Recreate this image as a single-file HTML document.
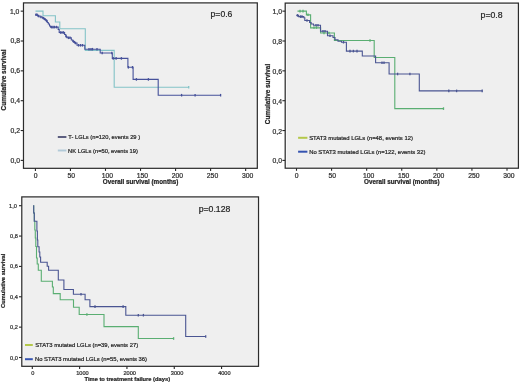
<!DOCTYPE html>
<html><head><meta charset="utf-8"><style>
html,body{margin:0;padding:0;background:#fff;width:520px;height:384px;overflow:hidden}
text{font-family:"Liberation Sans", sans-serif;stroke:#2a2a2a;stroke-width:0.22px}
</style></head><body><div style="will-change:transform;filter:blur(0.3px);width:520px;height:384px">
<svg width="520" height="384" viewBox="0 0 520 384" style="display:block">
<rect width="520" height="384" fill="#fff"/>
<rect x="23.5" y="2.9" width="233.8" height="165.4" fill="#fbfbfb" stroke="#2c2c2c" stroke-width="1.25"/>
<rect x="25.02" y="4.42" width="230.75" height="162.35" fill="#efefef"/>
<line x1="20.7" y1="160.4" x2="23.5" y2="160.4" stroke="#262626" stroke-width="1.1"/>
<text x="20" y="162.85" font-size="6.8" text-anchor="end" fill="#333">0,0</text>
<line x1="20.7" y1="130.55" x2="23.5" y2="130.55" stroke="#262626" stroke-width="1.1"/>
<text x="20" y="133" font-size="6.8" text-anchor="end" fill="#333">0,2</text>
<line x1="20.7" y1="100.7" x2="23.5" y2="100.7" stroke="#262626" stroke-width="1.1"/>
<text x="20" y="103.15" font-size="6.8" text-anchor="end" fill="#333">0,4</text>
<line x1="20.7" y1="70.85" x2="23.5" y2="70.85" stroke="#262626" stroke-width="1.1"/>
<text x="20" y="73.3" font-size="6.8" text-anchor="end" fill="#333">0,6</text>
<line x1="20.7" y1="41" x2="23.5" y2="41" stroke="#262626" stroke-width="1.1"/>
<text x="20" y="43.45" font-size="6.8" text-anchor="end" fill="#333">0,8</text>
<line x1="20.7" y1="11.15" x2="23.5" y2="11.15" stroke="#262626" stroke-width="1.1"/>
<text x="19.4" y="13.6" font-size="6.8" text-anchor="end" fill="#333">1,0</text>
<line x1="35.41" y1="168.3" x2="35.41" y2="170.9" stroke="#262626" stroke-width="1.1"/>
<text x="35.61" y="178.3" font-size="6.8" text-anchor="middle" fill="#333">0</text>
<line x1="70.45" y1="168.3" x2="70.45" y2="170.9" stroke="#262626" stroke-width="1.1"/>
<text x="71.25" y="178.3" font-size="6.8" text-anchor="middle" fill="#333">50</text>
<line x1="105.49" y1="168.3" x2="105.49" y2="170.9" stroke="#262626" stroke-width="1.1"/>
<text x="107.39" y="178.3" font-size="6.8" text-anchor="middle" fill="#333">100</text>
<line x1="140.53" y1="168.3" x2="140.53" y2="170.9" stroke="#262626" stroke-width="1.1"/>
<text x="142.43" y="178.3" font-size="6.8" text-anchor="middle" fill="#333">150</text>
<line x1="175.57" y1="168.3" x2="175.57" y2="170.9" stroke="#262626" stroke-width="1.1"/>
<text x="177.47" y="178.3" font-size="6.8" text-anchor="middle" fill="#333">200</text>
<line x1="210.61" y1="168.3" x2="210.61" y2="170.9" stroke="#262626" stroke-width="1.1"/>
<text x="212.51" y="178.3" font-size="6.8" text-anchor="middle" fill="#333">250</text>
<line x1="245.65" y1="168.3" x2="245.65" y2="170.9" stroke="#262626" stroke-width="1.1"/>
<text x="247.55" y="178.3" font-size="6.8" text-anchor="middle" fill="#333">300</text>
<text x="140.65" y="184.2" font-size="6.3" font-weight="bold" text-anchor="middle" fill="#222">Overall survival (months)</text>
<text transform="translate(5.7,80.0) rotate(-90)" font-size="6.45" font-weight="bold" text-anchor="middle" fill="#222">Cumulative survival</text>
<text x="210.6" y="17" font-size="8.6" fill="#222">p=0.6</text>
<path d="M35.5,11.1H43V15.8H55.4V22H59.8V28.7H85.3V50.4H114.2V87.3H189" fill="none" stroke="#84c3c7" stroke-width="1.1"/>
<path d="M35,14.8H37.5V16H40V17H42.5V18.2H44.5V19.5H46V20.8H47.3V22.5H48.3V24H49.5V26H50.5V27.1H58.2V29.5H59.2V32.5H64.6V34.5H65.8V36.5H67V37.8H71.3V40H72.8V41.5H74.5V43H77V45.3H84.8V49.2H100.2V53H112.3V58.4H127.9V67.3H133.1V79.4H158.2V95.2H220.6" fill="none" stroke="#46519a" stroke-width="1.1"/>
<line x1="36" y1="13.5" x2="36" y2="16.1" stroke="#46519a" stroke-width="1.3"/>
<line x1="37" y1="13.5" x2="37" y2="16.1" stroke="#46519a" stroke-width="1.3"/>
<line x1="38.5" y1="14.7" x2="38.5" y2="17.3" stroke="#46519a" stroke-width="1.3"/>
<line x1="41" y1="15.7" x2="41" y2="18.3" stroke="#46519a" stroke-width="1.3"/>
<line x1="43.5" y1="16.9" x2="43.5" y2="19.5" stroke="#46519a" stroke-width="1.3"/>
<line x1="45.3" y1="18.2" x2="45.3" y2="20.8" stroke="#46519a" stroke-width="1.3"/>
<line x1="46.6" y1="19.5" x2="46.6" y2="22.1" stroke="#46519a" stroke-width="1.3"/>
<line x1="51.5" y1="25.8" x2="51.5" y2="28.4" stroke="#46519a" stroke-width="1.3"/>
<line x1="53" y1="25.8" x2="53" y2="28.4" stroke="#46519a" stroke-width="1.3"/>
<line x1="54.5" y1="25.8" x2="54.5" y2="28.4" stroke="#46519a" stroke-width="1.3"/>
<line x1="56.5" y1="25.8" x2="56.5" y2="28.4" stroke="#46519a" stroke-width="1.3"/>
<line x1="60.5" y1="31.2" x2="60.5" y2="33.8" stroke="#46519a" stroke-width="1.3"/>
<line x1="62" y1="31.2" x2="62" y2="33.8" stroke="#46519a" stroke-width="1.3"/>
<line x1="63.5" y1="31.2" x2="63.5" y2="33.8" stroke="#46519a" stroke-width="1.3"/>
<line x1="66.3" y1="35.2" x2="66.3" y2="37.8" stroke="#46519a" stroke-width="1.3"/>
<line x1="68.5" y1="36.5" x2="68.5" y2="39.1" stroke="#46519a" stroke-width="1.3"/>
<line x1="70" y1="36.5" x2="70" y2="39.1" stroke="#46519a" stroke-width="1.3"/>
<line x1="73.5" y1="40.2" x2="73.5" y2="42.8" stroke="#46519a" stroke-width="1.3"/>
<line x1="75.5" y1="41.7" x2="75.5" y2="44.3" stroke="#46519a" stroke-width="1.3"/>
<line x1="78.5" y1="44" x2="78.5" y2="46.6" stroke="#46519a" stroke-width="1.3"/>
<line x1="80.5" y1="44" x2="80.5" y2="46.6" stroke="#46519a" stroke-width="1.3"/>
<line x1="82.5" y1="44" x2="82.5" y2="46.6" stroke="#46519a" stroke-width="1.3"/>
<line x1="89" y1="47.9" x2="89" y2="50.5" stroke="#46519a" stroke-width="1.3"/>
<line x1="91" y1="47.9" x2="91" y2="50.5" stroke="#46519a" stroke-width="1.3"/>
<line x1="92.5" y1="47.9" x2="92.5" y2="50.5" stroke="#46519a" stroke-width="1.3"/>
<line x1="97" y1="47.9" x2="97" y2="50.5" stroke="#46519a" stroke-width="1.3"/>
<line x1="102.2" y1="51.7" x2="102.2" y2="54.3" stroke="#46519a" stroke-width="1.3"/>
<line x1="111.8" y1="51.7" x2="111.8" y2="54.3" stroke="#46519a" stroke-width="1.3"/>
<line x1="113.2" y1="57.1" x2="113.2" y2="59.7" stroke="#46519a" stroke-width="1.3"/>
<line x1="116.1" y1="57.1" x2="116.1" y2="59.7" stroke="#46519a" stroke-width="1.3"/>
<line x1="121.4" y1="57.1" x2="121.4" y2="59.7" stroke="#46519a" stroke-width="1.3"/>
<line x1="128.4" y1="66" x2="128.4" y2="68.6" stroke="#46519a" stroke-width="1.3"/>
<line x1="132.5" y1="66" x2="132.5" y2="68.6" stroke="#46519a" stroke-width="1.3"/>
<line x1="136.4" y1="78.1" x2="136.4" y2="80.7" stroke="#46519a" stroke-width="1.3"/>
<line x1="148.4" y1="78.1" x2="148.4" y2="80.7" stroke="#46519a" stroke-width="1.3"/>
<line x1="181.6" y1="93.9" x2="181.6" y2="96.5" stroke="#46519a" stroke-width="1.3"/>
<line x1="195.1" y1="93.9" x2="195.1" y2="96.5" stroke="#46519a" stroke-width="1.3"/>
<line x1="220.6" y1="93.9" x2="220.6" y2="96.5" stroke="#46519a" stroke-width="1.3"/>
<line x1="188.7" y1="86" x2="188.7" y2="88.6" stroke="#84c3c7" stroke-width="1.3"/>
<line x1="57.8" y1="137" x2="66.4" y2="137" stroke="#55577a" stroke-width="1.9"/>
<line x1="57.8" y1="150.5" x2="66.4" y2="150.5" stroke="#b2cad8" stroke-width="1.9"/>
<text x="68.3" y="139.1" font-size="5.75" fill="#222">T- LGLs (n=120, events 29 )</text>
<text x="68.1" y="152.7" font-size="5.75" fill="#222">NK LGLs (n=50, events 19)</text>
<rect x="285.2" y="3.1" width="233.2" height="165.1" fill="#fbfbfb" stroke="#2c2c2c" stroke-width="1.25"/>
<rect x="286.72" y="4.62" width="230.15" height="162.05" fill="#efefef"/>
<line x1="282.4" y1="160.4" x2="285.2" y2="160.4" stroke="#262626" stroke-width="1.1"/>
<text x="282" y="163.45" font-size="6.8" text-anchor="end" fill="#333">0,0</text>
<line x1="282.4" y1="130.55" x2="285.2" y2="130.55" stroke="#262626" stroke-width="1.1"/>
<text x="282" y="133.6" font-size="6.8" text-anchor="end" fill="#333">0,2</text>
<line x1="282.4" y1="100.7" x2="285.2" y2="100.7" stroke="#262626" stroke-width="1.1"/>
<text x="282" y="103.75" font-size="6.8" text-anchor="end" fill="#333">0,4</text>
<line x1="282.4" y1="70.85" x2="285.2" y2="70.85" stroke="#262626" stroke-width="1.1"/>
<text x="282" y="73.9" font-size="6.8" text-anchor="end" fill="#333">0,6</text>
<line x1="282.4" y1="41" x2="285.2" y2="41" stroke="#262626" stroke-width="1.1"/>
<text x="282" y="44.05" font-size="6.8" text-anchor="end" fill="#333">0,8</text>
<line x1="282.4" y1="11.15" x2="285.2" y2="11.15" stroke="#262626" stroke-width="1.1"/>
<text x="282" y="14.2" font-size="6.8" text-anchor="end" fill="#333">1,0</text>
<line x1="296.5" y1="168.2" x2="296.5" y2="170.8" stroke="#262626" stroke-width="1.1"/>
<text x="296.7" y="178.2" font-size="6.8" text-anchor="middle" fill="#333">0</text>
<line x1="331.58" y1="168.2" x2="331.58" y2="170.8" stroke="#262626" stroke-width="1.1"/>
<text x="332.38" y="178.2" font-size="6.8" text-anchor="middle" fill="#333">50</text>
<line x1="366.67" y1="168.2" x2="366.67" y2="170.8" stroke="#262626" stroke-width="1.1"/>
<text x="368.57" y="178.2" font-size="6.8" text-anchor="middle" fill="#333">100</text>
<line x1="401.75" y1="168.2" x2="401.75" y2="170.8" stroke="#262626" stroke-width="1.1"/>
<text x="403.65" y="178.2" font-size="6.8" text-anchor="middle" fill="#333">150</text>
<line x1="436.84" y1="168.2" x2="436.84" y2="170.8" stroke="#262626" stroke-width="1.1"/>
<text x="438.74" y="178.2" font-size="6.8" text-anchor="middle" fill="#333">200</text>
<line x1="471.93" y1="168.2" x2="471.93" y2="170.8" stroke="#262626" stroke-width="1.1"/>
<text x="473.82" y="178.2" font-size="6.8" text-anchor="middle" fill="#333">250</text>
<line x1="507.01" y1="168.2" x2="507.01" y2="170.8" stroke="#262626" stroke-width="1.1"/>
<text x="508.91" y="178.2" font-size="6.8" text-anchor="middle" fill="#333">300</text>
<text x="401.9" y="184.2" font-size="6.3" font-weight="bold" text-anchor="middle" fill="#222">Overall survival (months)</text>
<text transform="translate(270.4,94.0) rotate(-90)" font-size="6.4" font-weight="bold" text-anchor="middle" fill="#222">Cumulative survival</text>
<text x="480.6" y="17.8" font-size="8.7" fill="#222">p=0.8</text>
<path d="M297.5,11.1H306.4V14.9H310.6V27.9H320.6V33H334.4V40.5H374.2V57.5H394.8V108.6H443.5" fill="none" stroke="#5aae72" stroke-width="1.1"/>
<path d="M296.3,15.4H298.6V16.6H303.8V17.8H304.8V20.5H309.6V22.5H311.1V24H313.5V25.3H320.5V31.3H327.5V35.8H333V37.5H335V39.8H338V41.2H341.5V42.2H346.4V51.1H362.3V56H375.6V62.8H389.1V74H419.3V90.9H482.2" fill="none" stroke="#4a5592" stroke-width="1.1"/>
<line x1="297.5" y1="14.1" x2="297.5" y2="16.7" stroke="#4a5592" stroke-width="1.3"/>
<line x1="300.5" y1="15.3" x2="300.5" y2="17.9" stroke="#4a5592" stroke-width="1.3"/>
<line x1="302" y1="15.3" x2="302" y2="17.9" stroke="#4a5592" stroke-width="1.3"/>
<line x1="307" y1="19.2" x2="307" y2="21.8" stroke="#4a5592" stroke-width="1.3"/>
<line x1="316" y1="24" x2="316" y2="26.6" stroke="#4a5592" stroke-width="1.3"/>
<line x1="318" y1="24" x2="318" y2="26.6" stroke="#4a5592" stroke-width="1.3"/>
<line x1="323" y1="30" x2="323" y2="32.6" stroke="#4a5592" stroke-width="1.3"/>
<line x1="325" y1="30" x2="325" y2="32.6" stroke="#4a5592" stroke-width="1.3"/>
<line x1="330" y1="34.5" x2="330" y2="37.1" stroke="#4a5592" stroke-width="1.3"/>
<line x1="343.5" y1="40.9" x2="343.5" y2="43.5" stroke="#4a5592" stroke-width="1.3"/>
<line x1="350" y1="49.8" x2="350" y2="52.4" stroke="#4a5592" stroke-width="1.3"/>
<line x1="353.4" y1="49.8" x2="353.4" y2="52.4" stroke="#4a5592" stroke-width="1.3"/>
<line x1="357" y1="49.8" x2="357" y2="52.4" stroke="#4a5592" stroke-width="1.3"/>
<line x1="382" y1="61.5" x2="382" y2="64.1" stroke="#4a5592" stroke-width="1.3"/>
<line x1="384" y1="61.5" x2="384" y2="64.1" stroke="#4a5592" stroke-width="1.3"/>
<line x1="397.6" y1="72.7" x2="397.6" y2="75.3" stroke="#4a5592" stroke-width="1.3"/>
<line x1="409.9" y1="72.7" x2="409.9" y2="75.3" stroke="#4a5592" stroke-width="1.3"/>
<line x1="448.8" y1="89.6" x2="448.8" y2="92.2" stroke="#4a5592" stroke-width="1.3"/>
<line x1="456.6" y1="89.6" x2="456.6" y2="92.2" stroke="#4a5592" stroke-width="1.3"/>
<line x1="482.2" y1="89.6" x2="482.2" y2="92.2" stroke="#4a5592" stroke-width="1.3"/>
<line x1="300" y1="9.8" x2="300" y2="12.4" stroke="#5aae72" stroke-width="1.3"/>
<line x1="303" y1="9.8" x2="303" y2="12.4" stroke="#5aae72" stroke-width="1.3"/>
<line x1="308" y1="13.5" x2="308" y2="16.1" stroke="#5aae72" stroke-width="1.3"/>
<line x1="314" y1="26.2" x2="314" y2="28.8" stroke="#5aae72" stroke-width="1.3"/>
<line x1="316.5" y1="26.2" x2="316.5" y2="28.8" stroke="#5aae72" stroke-width="1.3"/>
<line x1="324" y1="31.7" x2="324" y2="34.3" stroke="#5aae72" stroke-width="1.3"/>
<line x1="329" y1="31.7" x2="329" y2="34.3" stroke="#5aae72" stroke-width="1.3"/>
<line x1="370" y1="39.2" x2="370" y2="41.8" stroke="#5aae72" stroke-width="1.3"/>
<line x1="443.5" y1="107.3" x2="443.5" y2="109.9" stroke="#5aae72" stroke-width="1.3"/>
<line x1="298.1" y1="137.8" x2="307.4" y2="137.8" stroke="#b4c84a" stroke-width="2"/>
<line x1="298.1" y1="151.7" x2="307.4" y2="151.7" stroke="#3553b0" stroke-width="2"/>
<text x="309.2" y="140.1" font-size="5.9" fill="#222">STAT3 mutated LGLs (n=48, events 12)</text>
<text x="309.2" y="153.7" font-size="5.9" fill="#222">No STAT3 mutated LGLs (n=122, events 32)</text>
<rect x="21.8" y="196.9" width="236.7" height="169.4" fill="#fbfbfb" stroke="#2c2c2c" stroke-width="1.25"/>
<rect x="23.32" y="198.43" width="233.65" height="166.35" fill="#efefef"/>
<line x1="19" y1="357.5" x2="21.8" y2="357.5" stroke="#262626" stroke-width="1.1"/>
<text x="17.8" y="359.52" font-size="5.6" text-anchor="end" fill="#333">0,0</text>
<line x1="19" y1="327.14" x2="21.8" y2="327.14" stroke="#262626" stroke-width="1.1"/>
<text x="17.8" y="329.16" font-size="5.6" text-anchor="end" fill="#333">0,2</text>
<line x1="19" y1="296.78" x2="21.8" y2="296.78" stroke="#262626" stroke-width="1.1"/>
<text x="17.8" y="298.8" font-size="5.6" text-anchor="end" fill="#333">0,4</text>
<line x1="19" y1="266.42" x2="21.8" y2="266.42" stroke="#262626" stroke-width="1.1"/>
<text x="17.8" y="268.44" font-size="5.6" text-anchor="end" fill="#333">0,6</text>
<line x1="19" y1="236.06" x2="21.8" y2="236.06" stroke="#262626" stroke-width="1.1"/>
<text x="17.8" y="238.08" font-size="5.6" text-anchor="end" fill="#333">0,8</text>
<line x1="19" y1="205.7" x2="21.8" y2="205.7" stroke="#262626" stroke-width="1.1"/>
<text x="16.8" y="207.72" font-size="5.6" text-anchor="end" fill="#333">1,0</text>
<line x1="32.3" y1="366.3" x2="32.3" y2="368.9" stroke="#262626" stroke-width="1.1"/>
<text x="32.9" y="374.5" font-size="5.6" text-anchor="middle" fill="#333">0</text>
<line x1="79.62" y1="366.3" x2="79.62" y2="368.9" stroke="#262626" stroke-width="1.1"/>
<text x="82.42" y="374.5" font-size="5.6" text-anchor="middle" fill="#333">1000</text>
<line x1="126.94" y1="366.3" x2="126.94" y2="368.9" stroke="#262626" stroke-width="1.1"/>
<text x="129.74" y="374.5" font-size="5.6" text-anchor="middle" fill="#333">2000</text>
<line x1="174.26" y1="366.3" x2="174.26" y2="368.9" stroke="#262626" stroke-width="1.1"/>
<text x="177.06" y="374.5" font-size="5.6" text-anchor="middle" fill="#333">3000</text>
<line x1="221.58" y1="366.3" x2="221.58" y2="368.9" stroke="#262626" stroke-width="1.1"/>
<text x="224.38" y="374.5" font-size="5.6" text-anchor="middle" fill="#333">4000</text>
<text x="127.3" y="381.3" font-size="5.75" font-weight="bold" text-anchor="middle" fill="#222">Time to treatment failure (days)</text>
<text transform="translate(5.1,280.8) rotate(-90)" font-size="5.75" font-weight="bold" text-anchor="middle" fill="#222">Cumulative survival</text>
<text x="198.7" y="212.2" font-size="8.7" fill="#222">p=0.128</text>
<path d="M33.7,205.2V213H34.3V221H34.8V230H35.3V238H35.8V246.5H36.5V258H37.2V264H38.3V270.3H41.3V281.2H52.4V287H53.3V293.6H60.2V299.8H73.5V307.2H79.2V314.5H104V326.6H138.3V338.5H173.6" fill="none" stroke="#5aae72" stroke-width="1.1"/>
<path d="M33.7,205.2V213H34.3V221.3H36.9V231H37.4V240H37.8V246.8H39.1V252H39.8V257H40.6V262.3H47.2V266.2H48.6V270.2H58.3V280H63.9V289.5H73.4V294.3H85.1V299.7H89.9V306.6H125.8V315.2H185.7V336.5H205.7" fill="none" stroke="#4a5592" stroke-width="1.1"/>
<line x1="81" y1="293" x2="81" y2="295.6" stroke="#4a5592" stroke-width="1.3"/>
<line x1="95" y1="305.3" x2="95" y2="307.9" stroke="#4a5592" stroke-width="1.3"/>
<line x1="123.1" y1="305.3" x2="123.1" y2="307.9" stroke="#4a5592" stroke-width="1.3"/>
<line x1="138.3" y1="313.9" x2="138.3" y2="316.5" stroke="#4a5592" stroke-width="1.3"/>
<line x1="143.4" y1="313.9" x2="143.4" y2="316.5" stroke="#4a5592" stroke-width="1.3"/>
<line x1="205.7" y1="335.2" x2="205.7" y2="337.8" stroke="#4a5592" stroke-width="1.3"/>
<line x1="86.9" y1="313.2" x2="86.9" y2="315.8" stroke="#5aae72" stroke-width="1.3"/>
<line x1="173.6" y1="337.2" x2="173.6" y2="339.8" stroke="#5aae72" stroke-width="1.3"/>
<line x1="25" y1="345" x2="32.8" y2="345" stroke="#b4c84a" stroke-width="2"/>
<line x1="25" y1="359.2" x2="32.8" y2="359.2" stroke="#3553b0" stroke-width="2"/>
<text x="35.2" y="347.1" font-size="5.85" fill="#222">STAT3 mutated LGLs (n=39, events 27)</text>
<text x="35.0" y="361.3" font-size="5.85" fill="#222">No STAT3 mutated LGLs (n=55, events 36)</text>
</svg>
</div></body></html>
